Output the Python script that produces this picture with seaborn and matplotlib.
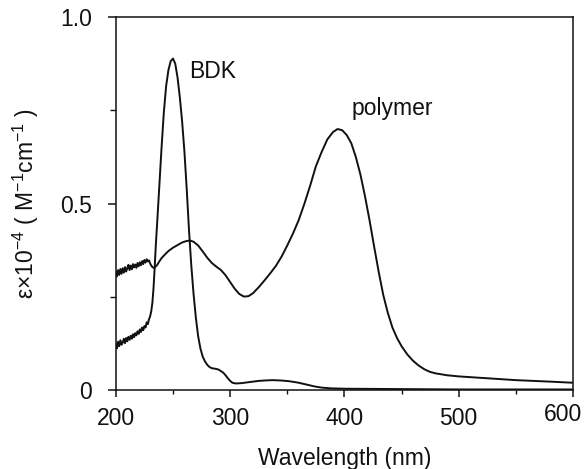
import numpy as np
import pandas as pd
import matplotlib
matplotlib.use("Agg")
import matplotlib.pyplot as plt
from matplotlib.ticker import MultipleLocator, FixedLocator
from matplotlib.transforms import ScaledTranslation
import seaborn as sns

# ---- data ----
polymer_nm = [200, 201, 202, 203, 204, 205, 206, 207, 208, 209, 210, 211, 212, 213, 214,
              215, 216, 217, 218, 219, 220, 221, 222, 223, 224, 225, 226, 227, 228, 229,
              230, 231, 232, 233, 234, 236, 238, 240, 243, 246, 250, 254, 258, 262, 265,
              268, 272, 276, 280, 284, 288, 292, 296, 300, 304, 308, 312, 316, 320, 325,
              330, 335, 340, 345, 350, 355, 360, 365, 370, 375, 380, 385, 390, 394, 398,
              402, 406, 410, 414, 418, 422, 426, 430, 434, 438, 442, 446, 450, 455, 460,
              465, 470, 475, 480, 490, 500, 510, 520, 535, 550, 565, 580, 600]
polymer_eps = [0.318, 0.305, 0.322, 0.309, 0.325, 0.312, 0.327, 0.315, 0.330, 0.318, 0.327,
               0.336, 0.322, 0.334, 0.324, 0.338, 0.329, 0.337, 0.328, 0.341, 0.332, 0.343,
               0.335, 0.346, 0.338, 0.349, 0.342, 0.351, 0.345, 0.348, 0.340, 0.334, 0.330,
               0.328, 0.329, 0.335, 0.345, 0.354, 0.364, 0.373, 0.382, 0.389, 0.396, 0.400,
               0.401, 0.398, 0.388, 0.372, 0.355, 0.341, 0.331, 0.322, 0.308, 0.290, 0.272,
               0.258, 0.251, 0.252, 0.260, 0.276, 0.294, 0.313, 0.333, 0.358, 0.388, 0.420,
               0.456, 0.500, 0.548, 0.600, 0.638, 0.672, 0.692, 0.700, 0.697, 0.684, 0.662,
               0.625, 0.578, 0.520, 0.455, 0.385, 0.317, 0.255, 0.207, 0.168, 0.140, 0.118,
               0.096, 0.079, 0.066, 0.056, 0.049, 0.045, 0.040, 0.037, 0.035, 0.033, 0.030,
               0.027, 0.025, 0.023, 0.020]

bdk_nm = [200, 201, 202, 203, 204, 205, 206, 207, 208, 209, 210, 211, 212, 213, 214, 215,
          216, 217, 218, 219, 220, 221, 222, 223, 224, 225, 226, 227, 228, 229, 230, 231,
          232, 233, 234, 235, 236, 238, 240, 242, 244, 246, 248, 250, 252, 254, 256, 258,
          260, 262, 264, 266, 268, 270, 272, 274, 276, 278, 280, 282, 284, 286, 288, 290,
          292, 294, 296, 298, 300, 302, 305, 310, 315, 320, 325, 330, 337, 345, 352, 360,
          367, 374, 380, 388, 400, 450, 500, 600]
bdk_eps = [0.125, 0.112, 0.130, 0.118, 0.134, 0.122, 0.128, 0.138, 0.126, 0.140, 0.131,
           0.143, 0.135, 0.146, 0.138, 0.150, 0.142, 0.153, 0.147, 0.158, 0.151, 0.163,
           0.156, 0.168, 0.161, 0.172, 0.168, 0.182, 0.177, 0.190, 0.198, 0.212, 0.235,
           0.275, 0.330, 0.390, 0.440, 0.545, 0.650, 0.745, 0.815, 0.858, 0.882, 0.889,
           0.875, 0.838, 0.785, 0.720, 0.640, 0.540, 0.430, 0.335, 0.258, 0.195, 0.145,
           0.112, 0.090, 0.077, 0.068, 0.062, 0.059, 0.058, 0.057, 0.055, 0.051, 0.047,
           0.040, 0.032, 0.025, 0.020, 0.018, 0.019, 0.021, 0.023, 0.025, 0.026, 0.027,
           0.026, 0.024, 0.020, 0.015, 0.010, 0.007, 0.005, 0.004, 0.003, 0.002, 0.002]

series_names = ["BDK", "polymer"]
label_pos = {"BDK": (264, 0.853), "polymer": (406, 0.756)}
x_ticks = [200, 300, 400, 500, 600]
y_ticks = [0, 0.5, 1.0]
y_tick_labels = ["0", "0.5", "1.0"]

df = pd.concat([
    pd.DataFrame({"nm": bdk_nm, "eps": bdk_eps, "series": "BDK"}),
    pd.DataFrame({"nm": polymer_nm, "eps": polymer_eps, "series": "polymer"}),
])

sns.set_theme(style="ticks")
plt.rcParams["font.family"] = ["Liberation Sans", "DejaVu Sans"]
plt.rcParams["mathtext.fontset"] = "custom"
plt.rcParams["mathtext.rm"] = "Liberation Sans"
plt.rcParams["mathtext.default"] = "regular"

FS = 16.5
fig = plt.figure(figsize=(5.88, 4.69), dpi=100)
ax = fig.add_axes([0.197, 0.168, 0.7775, 0.7955])

sns.lineplot(data=df, x="nm", y="eps", hue="series", units="series", estimator=None,
             palette={"BDK": "#111111", "polymer": "#111111"}, linewidth=1.4,
             legend=False, sort=False, ax=ax)

ax.set_xlim(200, 600)
ax.set_ylim(0, 1.0)
ax.xaxis.set_major_locator(FixedLocator(x_ticks))
ax.xaxis.set_minor_locator(MultipleLocator(50))
ax.yaxis.set_major_locator(FixedLocator(y_ticks))
ax.yaxis.set_minor_locator(MultipleLocator(0.25))
ax.set_yticklabels(y_tick_labels)

for s in ax.spines.values():
    s.set_linewidth(1.1)
    s.set_color("#111111")

ax.tick_params(axis="x", which="major", length=5, width=1.1, pad=7,
               labelsize=FS, colors="#111111", direction="out")
ax.tick_params(axis="x", which="minor", length=3, width=1.0, direction="out", colors="#111111")
ax.tick_params(axis="y", which="major", length=6, width=1.1, pad=11,
               labelsize=FS, colors="#111111", direction="out")
ax.tick_params(axis="y", which="minor", length=4, width=1.0, direction="out", colors="#111111")

ax.set_xlabel("Wavelength (nm)", fontsize=FS, color="#111111", labelpad=12)
ax.set_ylabel(r"ε×10$^{-4}$ ( M$^{-1}$cm$^{-1}$ )", fontsize=FS, color="#111111", labelpad=14)

# last x tick label sits slightly left and higher in the reference
fig.canvas.draw()
last = ax.get_xticklabels()[-1]
last.set_transform(last.get_transform() + ScaledTranslation(-10 / 100, 4 / 100, fig.dpi_scale_trans))

for name in series_names:
    x, y = label_pos[name]
    ax.text(x, y, name, fontsize=FS, color="#111111", ha="left", va="center")

fig.savefig("out.png", dpi=100)
